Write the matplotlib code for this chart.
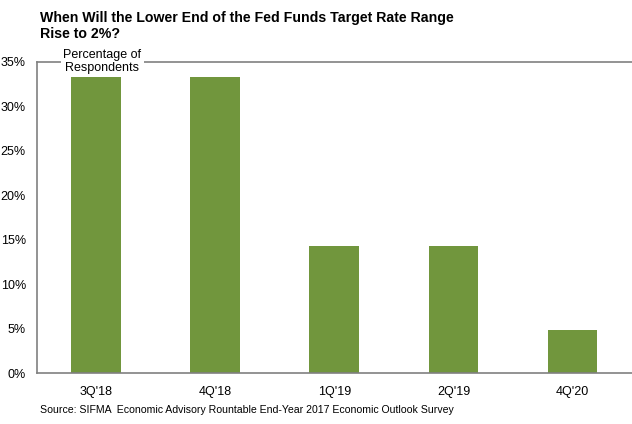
import matplotlib
matplotlib.use("Agg")
import matplotlib.pyplot as plt
from matplotlib.ticker import FuncFormatter

plt.rcParams["font.family"] = ["Liberation Sans", "DejaVu Sans"]

# Survey responses
quarters = ["3Q'18", "4Q'18", "1Q'19", "2Q'19", "4Q'20"]
share = [33.3, 33.3, 14.3, 14.3, 4.8]

fig = plt.figure(figsize=(6.32, 4.24), dpi=100)
ax = fig.add_axes([0.0585, 0.12, 0.9415, 0.734])

ax.bar(range(len(quarters)), share, width=0.42, color="#71963D")

ax.set_xlim(-0.5, len(quarters) - 0.5)
ax.set_ylim(0, 35)
ax.set_yticks(range(0, 36, 5))
ax.yaxis.set_major_formatter(FuncFormatter(lambda v, p: f"{v:.0f}%"))
ax.set_xticks(range(len(quarters)))
ax.set_xticklabels(quarters)
ax.tick_params(axis="both", length=0, labelsize=9, colors="black")
ax.tick_params(axis="x", pad=9)
ax.tick_params(axis="y", pad=8)

for side in ["left", "top", "bottom"]:
    ax.spines[side].set_color("#808080")
    ax.spines[side].set_linewidth(1.2)
ax.spines["right"].set_visible(False)

ax.text(0.05, 35, "Percentage of\nRespondents", ha="center", va="center",
        fontsize=9, linespacing=1.1,
        bbox=dict(facecolor="white", edgecolor="none", pad=2))

fig.text(0.063, 0.975, "When Will the Lower End of the Fed Funds Target Rate Range\nRise to 2%?",
         ha="left", va="top", fontsize=10.2, fontweight="bold", linespacing=1.25)

fig.text(0.063, 0.022, "Source: SIFMA  Economic Advisory Rountable End-Year 2017 Economic Outlook Survey",
         ha="left", va="bottom", fontsize=7.6)

fig.savefig("out.png", dpi=100)
